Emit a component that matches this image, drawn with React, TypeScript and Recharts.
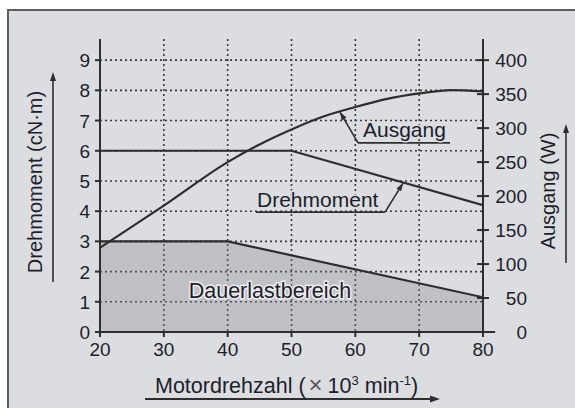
import React from 'react';
import {
  ComposedChart,
  Line,
  Area,
  XAxis,
  YAxis,
  CartesianGrid,
  ReferenceLine,
  ReferenceDot,
} from 'recharts';

// ---- data ----
const speedTicks = [20, 30, 40, 50, 60, 70, 80];
const torqueTicks = [0, 1, 2, 3, 4, 5, 6, 7, 8, 9];
const powerTicks = [0, 50, 100, 150, 200, 250, 300, 350, 400];

const torqueSpeeds = [20, 50, 80];
const torqueValues = [6, 6, 4.2];

const continuousSpeeds = [20, 40, 80];
const continuousValues = [3, 3, 1.15];

const powerSpeeds = [20, 30, 40, 45, 50, 55, 60, 65, 70, 75, 80];
const powerValues = [124, 186, 250, 276, 298, 317, 331, 343, 351, 356, 354];

const allSpeeds = Array.from(
  new Set([...torqueSpeeds, ...continuousSpeeds, ...powerSpeeds])
).sort((a, b) => a - b);

const table = allSpeeds.map((s) => {
  const ti = torqueSpeeds.indexOf(s);
  const ci = continuousSpeeds.indexOf(s);
  const pi = powerSpeeds.indexOf(s);
  return {
    speed: s,
    torque: ti >= 0 ? torqueValues[ti] : null,
    continuous: ci >= 0 ? continuousValues[ci] : null,
    power: pi >= 0 ? powerValues[pi] : null,
  };
});

const LEFT_MAX = 9.7;
const RIGHT_MAX = (LEFT_MAX * 400) / 9;

// ---- style ----
const FONT = '"Liberation Sans", Arial, Helvetica, sans-serif';
const INK = '#1d1d2b';
const LINE = '#2e2e2e';
const BG = '#dcdde0';

const arrowHead = (tx: number, ty: number, fx: number, fy: number, len = 8, half = 3) => {
  const dx = tx - fx;
  const dy = ty - fy;
  const d = Math.sqrt(dx * dx + dy * dy) || 1;
  const ux = dx / d;
  const uy = dy / d;
  const bx = tx - ux * len;
  const by = ty - uy * len;
  const px = -uy * half;
  const py = ux * half;
  return `${tx},${ty} ${bx + px},${by + py} ${bx - px},${by - py}`;
};

const XTick = (p: any) => (
  <text x={p.x} y={p.y + 17} textAnchor="middle" fontSize={19} fontFamily={FONT} fill={INK}>
    {p.payload.value}
  </text>
);

const LeftTick = (p: any) => (
  <text x={p.x} y={p.y + 7} textAnchor="end" fontSize={19} fontFamily={FONT} fill={INK}>
    {p.payload.value}
  </text>
);

const RightTick = (p: any) => (
  <g>
    <line x1={p.x - 6} y1={p.y} x2={p.x + 6} y2={p.y} stroke={LINE} strokeWidth={2} />
    <text x={p.x + 44} y={p.y + 7} textAnchor="end" fontSize={19} fontFamily={FONT} fill={INK}>
      {p.payload.value}
    </text>
  </g>
);

const LeftTitle = (props: any) => {
  const vb = props.viewBox || { x: 0, y: 39, width: 100, height: 293 };
  const cx = vb.x + 35;
  const cy = vb.y + 143;
  const ax = vb.x + 53;
  const top = vb.y + 33;
  const bottom = vb.y + 243;
  return (
    <g>
      <text
        x={cx}
        y={cy}
        transform={`rotate(-90 ${cx} ${cy})`}
        textAnchor="middle"
        dominantBaseline="central"
        fontSize={20}
        fontFamily={FONT}
        fill={INK}
      >
        Drehmoment (cN·m)
      </text>
      <line x1={ax} y1={bottom} x2={ax} y2={top + 6} stroke={LINE} strokeWidth={1.6} />
      <polygon points={arrowHead(ax, top, ax, bottom, 9, 3)} fill={LINE} />
    </g>
  );
};

const RightTitle = (props: any) => {
  const vb = props.viewBox || { x: 483, y: 39, width: 92, height: 293 };
  const cx = vb.x + 65;
  const cy = vb.y + 152;
  const ax = vb.x + 83;
  const top = vb.y + 85;
  const bottom = vb.y + 224;
  return (
    <g>
      <text
        x={cx}
        y={cy}
        transform={`rotate(-90 ${cx} ${cy})`}
        textAnchor="middle"
        dominantBaseline="central"
        fontSize={20}
        fontFamily={FONT}
        fill={INK}
      >
        Ausgang (W)
      </text>
      <line x1={ax} y1={bottom} x2={ax} y2={top + 6} stroke={LINE} strokeWidth={1.6} />
      <polygon points={arrowHead(ax, top, ax, bottom, 9, 3)} fill={LINE} />
    </g>
  );
};

const BottomTitle = (props: any) => {
  const vb = props.viewBox || { x: 100, y: 332, width: 383, height: 76 };
  const x0 = vb.x + 55;
  const by = vb.y + 61;
  const ay = vb.y + 67;
  const ax1 = vb.x + 45;
  const ax2 = vb.x + 340;
  return (
    <g>
      <text x={x0} y={by} fontSize={21.5} fontFamily={FONT} fill={INK}>
        Motordrehzahl (
        <tspan fill="#5a5a62" fontSize={24} dx={3}>×</tspan>
        <tspan dx={5}>10</tspan>
        <tspan fontSize={13} dy={-8}>3</tspan>
        <tspan dy={8}> min</tspan>
        <tspan fontSize={13} dy={-8}>-1</tspan>
        <tspan dy={8}>)</tspan>
      </text>
      <line x1={ax1} y1={ay} x2={ax2 - 6} y2={ay} stroke={LINE} strokeWidth={1.8} />
      <polygon points={arrowHead(ax2, ay, ax1, ay, 10, 3.5)} fill={LINE} />
    </g>
  );
};

// leader: segment from underline corner (x1,y1) to tip (x2,y2)
const makeLeader = (label: string, underline: number, textDx: number, textDy: number) => (p: any) => {
  const { x1, y1, x2, y2 } = p;
  if ([x1, y1, x2, y2].some((v) => typeof v !== 'number' || isNaN(v))) return <g />;
  const ux2 = x1 + underline;
  const textX = underline >= 0 ? x1 + textDx : ux2 + textDx;
  return (
    <g>
      <line x1={x1} y1={y1} x2={ux2} y2={y1} stroke={LINE} strokeWidth={1.6} />
      <line x1={x1} y1={y1} x2={x2} y2={y2} stroke={LINE} strokeWidth={1.6} />
      <polygon points={arrowHead(x2, y2, x1, y1, 8, 2.8)} fill={LINE} />
      <text
        x={textX}
        y={y1 + textDy}
        fontSize={21}
        fontFamily={FONT}
        fill={INK}
        stroke={BG}
        strokeWidth={3}
        paintOrder="stroke"
      >
        {label}
      </text>
    </g>
  );
};

const AusgangLeader = makeLeader('Ausgang', 92, 5, -6);
const DrehmomentLeader = makeLeader('Drehmoment', -129, 1, -5);

const DauerLabel = (p: any) => {
  if (typeof p.cx !== 'number') return <g />;
  return (
    <text
      x={p.cx}
      y={p.cy}
      fontSize={21.5}
      fontFamily={FONT}
      fill={INK}
      stroke="#ececee"
      strokeWidth={3}
      paintOrder="stroke"
    >
      Dauerlastbereich
    </text>
  );
};

export default function App() {
  return (
    <div style={{ position: 'absolute', left: 0, top: 0, width: 575, height: 408, background: '#fff', overflow: 'hidden' }}>
      <div
        style={{
          position: 'absolute',
          left: 7,
          top: 9,
          width: 570,
          height: 402,
          background: BG,
          borderLeft: '2px solid #5e5e5e',
          borderTop: '2px solid #5e5e5e',
          boxSizing: 'border-box',
        }}
      />
      <div style={{ position: 'absolute', left: 0, top: 0 }}>
        <ComposedChart
          width={575}
          height={408}
          data={table}
          margin={{ top: 39, right: 0, bottom: 0, left: 0 }}
        >
          <XAxis
            dataKey="speed"
            type="number"
            domain={[20, 80]}
            ticks={speedTicks}
            allowDataOverflow
            height={76}
            axisLine={{ stroke: LINE, strokeWidth: 2 }}
            tickLine={{ stroke: LINE, strokeWidth: 2 }}
            tickSize={5}
            tickMargin={2}
            tick={XTick}
            label={{ content: BottomTitle }}
          />
          <YAxis
            yAxisId="left"
            orientation="left"
            type="number"
            domain={[0, LEFT_MAX]}
            ticks={torqueTicks}
            allowDataOverflow
            width={100}
            axisLine={{ stroke: LINE, strokeWidth: 2 }}
            tickLine={{ stroke: LINE, strokeWidth: 2 }}
            tickSize={5}
            tickMargin={5}
            tick={LeftTick}
            label={{ content: LeftTitle }}
          />
          <YAxis
            yAxisId="right"
            orientation="right"
            type="number"
            domain={[0, RIGHT_MAX]}
            ticks={powerTicks}
            allowDataOverflow
            width={92}
            axisLine={{ stroke: LINE, strokeWidth: 2 }}
            tickLine={false}
            tickSize={0}
            tickMargin={0}
            tick={RightTick}
            label={{ content: RightTitle }}
          />
          <CartesianGrid
            yAxisId="left"
            stroke="#3a3a3a"
            strokeWidth={1.6}
            strokeDasharray="2 3"
            verticalValues={[30, 40, 50, 60, 70]}
            horizontalValues={[1, 2, 3, 4, 5, 6, 7, 8, 9]}
          />
          <Area
            yAxisId="left"
            dataKey="continuous"
            type="linear"
            connectNulls
            stroke={LINE}
            strokeWidth={2.2}
            fill="#8a8a92"
            fillOpacity={0.33}
            isAnimationActive={false}
            dot={false}
            activeDot={false}
          />
          <Line
            yAxisId="left"
            dataKey="torque"
            type="linear"
            connectNulls
            stroke={LINE}
            strokeWidth={2.2}
            dot={false}
            activeDot={false}
            isAnimationActive={false}
          />
          <Line
            yAxisId="right"
            dataKey="power"
            type="monotone"
            connectNulls
            stroke={LINE}
            strokeWidth={2.2}
            dot={false}
            activeDot={false}
            isAnimationActive={false}
          />
          <ReferenceLine
            yAxisId="left"
            segment={[{ x: 80, y: 0 }, { x: 81.9, y: 0 }]}
            ifOverflow="visible"
            stroke={LINE}
            strokeWidth={2}
          />
          <ReferenceLine
            yAxisId="left"
            segment={[{ x: 60.42, y: 6.26 }, { x: 57.6, y: 7.28 }]}
            ifOverflow="visible"
            shape={AusgangLeader}
          />
          <ReferenceLine
            yAxisId="left"
            segment={[{ x: 64.65, y: 3.97 }, { x: 67.47, y: 4.93 }]}
            ifOverflow="visible"
            shape={DrehmomentLeader}
          />
          <ReferenceDot
            yAxisId="left"
            x={33.9}
            y={1.13}
            r={0}
            ifOverflow="visible"
            shape={DauerLabel}
          />
        </ComposedChart>
      </div>
    </div>
  );
}
